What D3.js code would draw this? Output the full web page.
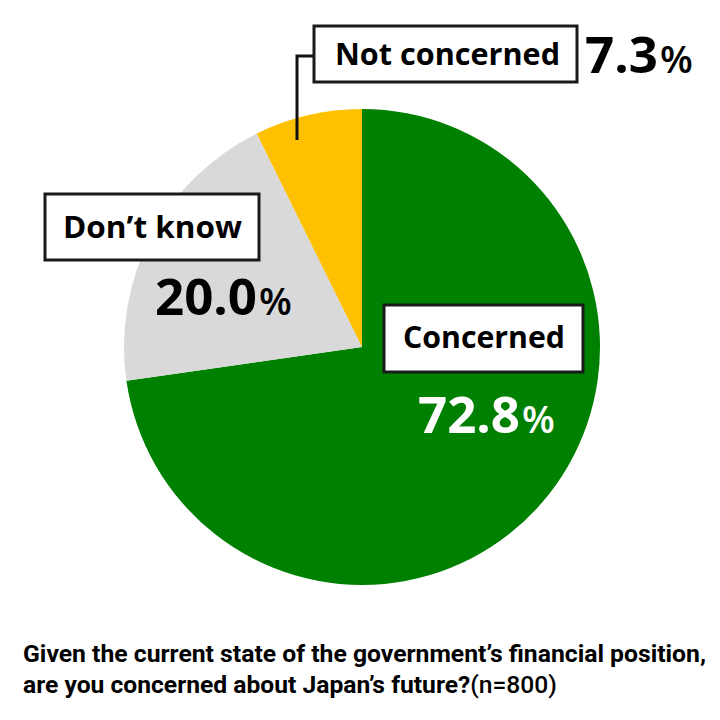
<!DOCTYPE html>
<html><head><meta charset="utf-8">
<script src="https://cdn.jsdelivr.net/npm/d3@7"></script>
<style>body{margin:0;background:#fff}</style>
</head><body>
<svg id="c" width="720" height="720"></svg>
<script>
const categories = ["Concerned", "Don\u2019t know", "Not concerned"];
const values = [72.8, 20.0, 7.3];
const colors = ["#008000", "#D9D9D9", "#FFC000"];
const titleLine1 = "Given the current state of the government\u2019s financial position,";
const titleLine2 = "are you concerned about Japan\u2019s future?";
const titleN = "(n=800)";

const svg = d3.select("#c");
const cx = 362, cy = 347, r = 238;
const pie = d3.pie().sort(null).value(d => d)(values);
const arc = d3.arc().innerRadius(0).outerRadius(r);
const g = svg.append("g").attr("transform", `translate(${cx},${cy})`);
g.selectAll("path").data(pie).join("path")
  .attr("d", arc).attr("fill", (d, i) => colors[i]);

// leader line for Not concerned
svg.append("path").attr("d", "M313,56 H297 V140")
  .attr("fill", "none").attr("stroke", "#111").attr("stroke-width", 3);

const font = "'Open Sans', Lato, sans-serif";
const boxes = [
  {x: 384, y: 305, w: 199, h: 67, tx: 484, ty: 348, tl: 162, px: 418, py: 433, pc: "#fff"},
  {x: 45, y: 194, w: 214, h: 66, tx: 152.5, ty: 238, tl: 179, px: 155, py: 315, pc: "#000"},
  {x: 314, y: 26, w: 263, h: 56, tx: 447.5, ty: 65, tl: 225, px: 585, py: 73, pc: "#000"}
];
boxes.forEach((b, i) => {
  svg.append("rect").attr("x", b.x).attr("y", b.y).attr("width", b.w).attr("height", b.h)
    .attr("fill", "#fff").attr("stroke", "#1a1a1a").attr("stroke-width", 3);
  svg.append("text").attr("x", b.tx).attr("y", b.ty).attr("text-anchor", "middle")
    .attr("font-family", font).attr("font-weight", 700).attr("font-size", 30)
    .attr("textLength", b.tl).attr("lengthAdjust", "spacingAndGlyphs")
    .attr("fill", "#000").text(categories[i]);
  const num = svg.append("text").attr("x", b.px).attr("y", b.py)
    .attr("font-family", font).attr("font-weight", 700).attr("fill", b.pc)
    .attr("font-size", 51).text(values[i].toFixed(1));
  const w = num.node().getComputedTextLength();
  svg.append("text").attr("x", b.px + w + 2).attr("y", b.py)
    .attr("font-family", font).attr("font-weight", 600).attr("fill", b.pc)
    .attr("font-size", 38).text("%");
});

const tf = "Roboto, 'Noto Sans', sans-serif";
svg.append("text").attr("x", 23).attr("y", 662)
  .attr("font-family", tf).attr("font-weight", 700).attr("font-size", 24).attr("fill", "#000")
  .attr("textLength", 683).attr("lengthAdjust", "spacingAndGlyphs").text(titleLine1);
const t2 = svg.append("text").attr("x", 23).attr("y", 693)
  .attr("font-family", tf).attr("font-weight", 700).attr("font-size", 24).attr("fill", "#000")
  .attr("textLength", 534).attr("lengthAdjust", "spacingAndGlyphs");
t2.append("tspan").text(titleLine2);
t2.append("tspan").attr("font-weight", 500).text(titleN);
</script>
</body></html>
